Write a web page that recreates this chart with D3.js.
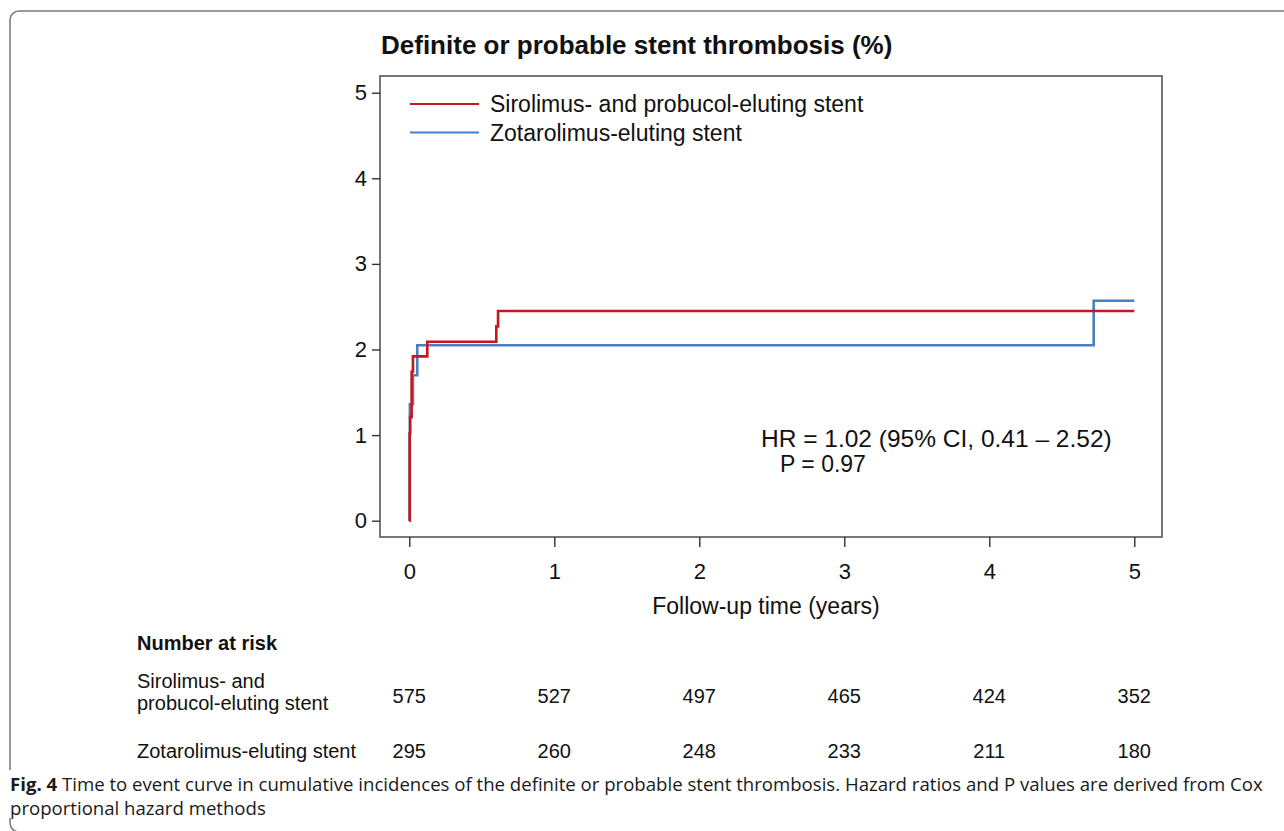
<!DOCTYPE html>
<html>
<head>
<meta charset="utf-8">
<script src="https://cdn.jsdelivr.net/npm/d3@7"></script>
<style>
  body { margin: 0; background: #fff; }
  svg { display: block; }
  text { font-family: "Liberation Sans", Arial, sans-serif; fill: #111; }
  .caption { font-family: "Open Sans", "Noto Sans", sans-serif; fill: #1a1a1a; }
</style>
</head>
<body>
<svg id="chart" width="1284" height="831"></svg>
<script>
// step curves: [time in years, cumulative incidence %]
const sirolimusCurve = [[0, 0], [0.003, 1.02], [0.006, 1.21], [0.016, 1.74], [0.025, 1.92], [0.124, 2.09], [0.60, 2.27], [0.612, 2.45], [5, 2.45]];
const zotarolimusCurve = [[0, 0], [0.002, 1.02], [0.004, 1.36], [0.025, 1.70], [0.055, 2.05], [4.72, 2.57], [5, 2.57]];

const seriesNames = ["Sirolimus- and probucol-eluting stent", "Zotarolimus-eluting stent"];
const seriesColors = ["#c8161d", "#4a7fc1"];

const xTicks = [0, 1, 2, 3, 4, 5];
const yTicks = [0, 1, 2, 3, 4, 5];

const riskTimes = [0, 1, 2, 3, 4, 5];
const sirolimusRisk = [575, 527, 497, 465, 424, 352];
const zotarolimusRisk = [295, 260, 248, 233, 211, 180];

const svg = d3.select("#chart");

const box = { left: 380, right: 1162, top: 76, bottom: 537 };

const x = d3.scaleLinear().domain([0, 5]).range([409.3, 1134.3]);
const y = d3.scaleLinear().domain([0, 5]).range([520.7, 92.7]);

// outer figure frame
svg.append("rect")
  .attr("x", 10).attr("y", 11)
  .attr("width", 1320).attr("height", 821)
  .attr("rx", 9)
  .attr("fill", "none")
  .attr("stroke", "#7a7a7a")
  .attr("stroke-width", 1.5);

// title
svg.append("text")
  .attr("x", 381).attr("y", 54)
  .style("font-size", "26px")
  .style("font-weight", "bold")
  .text("Definite or probable stent thrombosis (%)");

// plot frame
svg.append("rect")
  .attr("x", box.left).attr("y", box.top)
  .attr("width", box.right - box.left).attr("height", box.bottom - box.top)
  .attr("fill", "none")
  .attr("stroke", "#555")
  .attr("stroke-width", 1.6);

// axes
const xAxis = svg.append("g")
  .attr("transform", `translate(0,${box.bottom})`)
  .call(d3.axisBottom(x).tickValues(xTicks).tickSize(10).tickPadding(16).tickFormat(d3.format("d")));
const yAxis = svg.append("g")
  .attr("transform", `translate(${box.left},0)`)
  .call(d3.axisLeft(y).tickValues(yTicks).tickSize(8).tickPadding(5).tickFormat(d3.format("d")));

[xAxis, yAxis].forEach(g => {
  g.select(".domain").remove();
  g.selectAll(".tick line").attr("stroke", "#333").attr("stroke-width", 1.4);
  g.selectAll(".tick text")
    .style("font-size", "22px")
    .style("font-family", "'Liberation Sans', Arial, sans-serif")
    .attr("fill", "#111");
});

svg.append("text")
  .attr("x", 766).attr("y", 614)
  .attr("text-anchor", "middle")
  .style("font-size", "23px")
  .text("Follow-up time (years)");

// step curves
const line = d3.line()
  .x(d => x(d[0]))
  .y(d => y(d[1]))
  .curve(d3.curveStepAfter);

[zotarolimusCurve, sirolimusCurve].forEach((curve, i) => {
  const idx = i === 0 ? 1 : 0;
  svg.append("path")
    .datum(curve)
    .attr("d", line)
    .attr("fill", "none")
    .attr("stroke", seriesColors[idx])
    .attr("stroke-width", 2.6);
});

// legend
seriesNames.forEach((name, i) => {
  const ly = 104 + i * 28.5;
  svg.append("line")
    .attr("x1", 410).attr("x2", 479)
    .attr("y1", ly).attr("y2", ly)
    .attr("stroke", seriesColors[i])
    .attr("stroke-width", 2.2);
  svg.append("text")
    .attr("x", 490).attr("y", ly + 8)
    .style("font-size", "23px")
    .text(name);
});

// hazard ratio
svg.append("text")
  .attr("x", 761).attr("y", 447)
  .style("font-size", "24.5px")
  .text("HR = 1.02 (95% CI, 0.41 \u2013 2.52)");
svg.append("text")
  .attr("x", 780).attr("y", 472)
  .style("font-size", "23px")
  .text("P = 0.97");

// number at risk table
svg.append("text")
  .attr("x", 137).attr("y", 650)
  .style("font-size", "20px")
  .style("font-weight", "bold")
  .text("Number at risk");

const rowLabel = svg.append("text")
  .attr("x", 137).attr("y", 688)
  .style("font-size", "20px");
rowLabel.append("tspan").attr("x", 137).attr("dy", 0).text("Sirolimus- and");
rowLabel.append("tspan").attr("x", 137).attr("dy", 22).text("probucol-eluting stent");

svg.append("text")
  .attr("x", 137).attr("y", 758)
  .style("font-size", "20px")
  .text("Zotarolimus-eluting stent");

svg.selectAll(".risk-s")
  .data(sirolimusRisk)
  .join("text")
  .attr("x", (d, i) => x(riskTimes[i]))
  .attr("y", 703)
  .attr("text-anchor", "middle")
  .style("font-size", "20px")
  .text(d => d);

svg.selectAll(".risk-z")
  .data(zotarolimusRisk)
  .join("text")
  .attr("x", (d, i) => x(riskTimes[i]))
  .attr("y", 758)
  .attr("text-anchor", "middle")
  .style("font-size", "20px")
  .text(d => d);

// caption
svg.append("rect")
  .attr("x", 6).attr("y", 770)
  .attr("width", 1278).attr("height", 48)
  .attr("fill", "#fff");

const cap1 = svg.append("text")
  .attr("class", "caption")
  .attr("x", 10).attr("y", 791)
  .style("font-size", "18.6px");
cap1.append("tspan").style("font-weight", "bold").text("Fig. 4");
cap1.append("tspan").text("  Time to event curve in cumulative incidences of the definite or probable stent thrombosis. Hazard ratios and P values are derived from Cox");

svg.append("text")
  .attr("class", "caption")
  .attr("x", 10).attr("y", 815)
  .style("font-size", "18.6px")
  .text("proportional hazard methods");
</script>
</body>
</html>
